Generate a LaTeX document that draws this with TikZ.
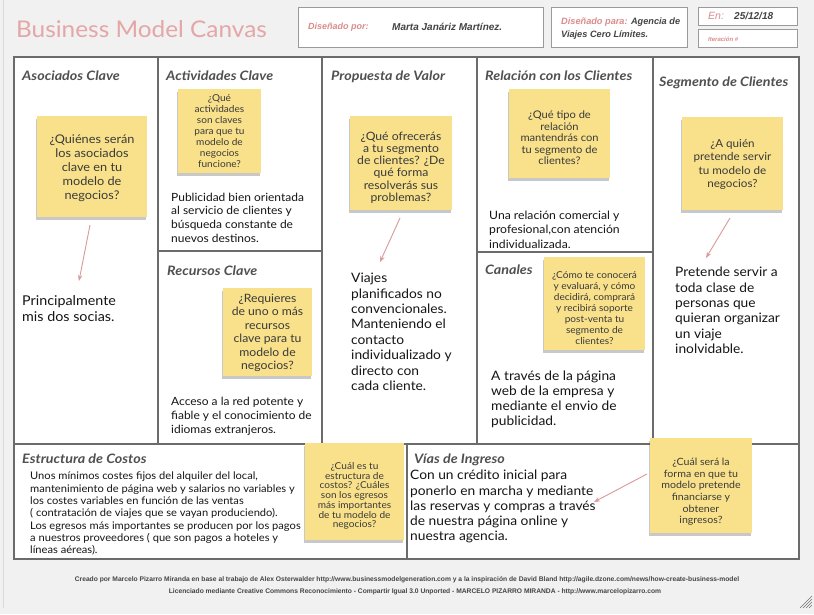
\documentclass[tikz,border=0pt]{standalone}
\usepackage{fontspec}
\setmainfont{Lato}[FakeStretch=1.06]
\newfontfamily\headingfont{Lato}[FakeStretch=1.1]
\newfontfamily\arialfont{Liberation Sans}
\usetikzlibrary{shadows,arrows.meta}

\definecolor{bggray}{HTML}{F1F1F1}
\definecolor{gridgray}{HTML}{6B6B6B}
\definecolor{boxgray}{HTML}{9A9A9A}
\definecolor{titlepink}{HTML}{E4A6A6}
\definecolor{labelpink}{HTML}{DA8C8C}
\definecolor{headtext}{HTML}{444444}
\definecolor{titlegray}{HTML}{505050}
\definecolor{noteyellow}{HTML}{F8E18A}
\definecolor{notetext}{HTML}{3A3A3A}
\definecolor{arrowpink}{HTML}{D99A9A}
\definecolor{bodyblack}{HTML}{151515}

\tikzset{
  cellline/.style={draw=gridgray, line width=2pt},
  infobox/.style={draw=boxgray, line width=0.8pt, fill=white, anchor=north west, inner sep=0pt},
  headfont/.style={inner sep=0pt, text=headtext, font=\arialfont\bfseries\itshape\fontsize{9}{12}\selectfont},
  celltitle/.style={anchor=base west, inner sep=0pt, text=titlegray, font=\headingfont\bfseries\itshape\fontsize{13}{15}\selectfont},
  sticky/.style={fill=noteyellow, inner sep=0pt,
    drop shadow={shadow xshift=-1pt, shadow yshift=-2.5pt, opacity=0.3, fill=black!70}},
  question/.style={align=center, inner sep=0pt, text=notetext},
  body/.style={anchor=north west, align=left, inner sep=0pt, text=bodyblack},
  hint/.style={draw=arrowpink, line width=0.9pt, -{Stealth[length=6pt,width=4.5pt]}},
  footnote/.style={inner sep=0pt, text=headtext, font=\arialfont\bfseries\fontsize{6.7}{8}\selectfont},
}

\begin{document}
\begin{tikzpicture}[x=1pt,y=-1pt]
\fill[bggray] (0,0) rectangle (814,614);
\useasboundingbox (0,0) rectangle (814,614);
\draw[black!15] (3,0) -- (3,608);

% header
\node[anchor=base west, inner sep=0pt, text=titlepink, font=\fontsize{23}{28}\selectfont] (title) at (16,37) {Business Model Canvas};

\node[infobox, minimum width=245pt, minimum height=40pt] (byBox) at (298,7) {};
\node[headfont, anchor=west, text=labelpink] (byLabel) at (308,27) {Diseñado por:};
\node[headfont, anchor=west, font=\arialfont\bfseries\itshape\fontsize{10}{12}\selectfont] (byName) at (392,27) {Marta Janáriz Martínez.};

\node[infobox, minimum width=136pt, minimum height=40pt] (forBox) at (551,7) {};
\node[headfont, anchor=north west, align=left, font=\arialfont\bfseries\itshape\fontsize{9.2}{12.5}\selectfont] (forText) at (561,18)
  {\textcolor{labelpink}{Diseñado para:} Agencia de\\Viajes Cero Límites.};

\node[infobox, minimum width=99pt, minimum height=18pt] (dateBox) at (698,7) {};
\node[headfont, anchor=west, text=labelpink, font=\arialfont\itshape\fontsize{10.5}{12}\selectfont] (dateLabel) at (708,16) {En:};
\node[headfont, anchor=west, font=\arialfont\bfseries\itshape\fontsize{10}{12}\selectfont] (dateText) at (734,15.5) {25/12/18};

\node[infobox, minimum width=99pt, minimum height=18pt] (iterBox) at (698,29) {};
\node[headfont, anchor=west, text=labelpink, font=\arialfont\bfseries\itshape\fontsize{6}{8}\selectfont] (iterText) at (708,39) {Iteración \#};

% canvas grid
\draw[cellline, fill=white] (14,57) rectangle (799,559);
\draw[cellline] (14,444) -- (799,444);
\draw[cellline] (158,57) -- (158,444);
\draw[cellline] (322,57) -- (322,444);
\draw[cellline] (477,57) -- (477,444);
\draw[cellline] (653,57) -- (653,444);
\draw[cellline] (158,251) -- (322,251);
\draw[cellline] (477,252) -- (653,252);
\draw[cellline] (407,444) -- (407,559);

% cell titles
\node[celltitle] (tPartners) at (22,80) {Asociados Clave};
\node[celltitle] (tActivities) at (166,80) {Actividades Clave};
\node[celltitle] (tValue) at (331,80) {Propuesta de Valor};
\node[celltitle] (tRelations) at (485,80) {Relación con los Clientes};
\node[celltitle] (tSegments) at (659,86) {Segmento de Clientes};
\node[celltitle] (tResources) at (167,275) {Recursos Clave};
\node[celltitle] (tChannels) at (485,274) {Canales};
\node[celltitle] (tCosts) at (22,463) {Estructura de Costos};
\node[celltitle] (tRevenue) at (414,463) {Vías de Ingreso};

% sticky notes
\node[sticky, minimum width=110pt, minimum height=101pt] (nPartners) at (92,166.5) {};
\node[question, font=\fontsize{12}{14}\selectfont] (qPartners) at (92,168)
  {¿Quiénes serán\\los asociados\\clave en tu\\modelo de\\negocios?};

\node[sticky, minimum width=83pt, minimum height=84pt] (nActivities) at (219.5,131) {};
\node[question, font=\fontsize{9.5}{11}\selectfont] (qActivities) at (219.5,131)
  {¿Qué\\actividades\\son claves\\para que tu\\modelo de\\negocios\\funcione?};

\node[sticky, minimum width=102pt, minimum height=94pt] (nValue) at (401,163) {};
\node[question, font=\fontsize{11.5}{12.2}\selectfont] (qValue) at (401,167.5)
  {¿Qué ofrecerás\\a tu segmento\\de clientes? ¿De\\qué forma\\resolverás sus\\problemas?};

\node[sticky, minimum width=101pt, minimum height=89pt] (nRelations) at (559.5,133.5) {};
\node[question, font=\fontsize{10.5}{11.5}\selectfont] (qRelations) at (559.5,138)
  {¿Qué tipo de\\relación\\mantendrás con\\tu segmento de\\clientes?};

\node[sticky, minimum width=101pt, minimum height=93pt] (nSegments) at (732.5,163.5) {};
\node[question, font=\fontsize{11}{13.5}\selectfont] (qSegments) at (732.5,164.5)
  {¿A quién\\pretende servir\\tu modelo de\\negocios?};

\node[sticky, minimum width=89pt, minimum height=88pt] (nResources) at (267.5,332) {};
\node[question, font=\fontsize{11.5}{13.5}\selectfont] (qResources) at (267.5,333)
  {¿Requieres\\de uno o más\\recursos\\clave para tu\\modelo de\\negocios?};

\node[sticky, minimum width=101pt, minimum height=93pt] (nChannels) at (594.5,303.5) {};
\node[question, font=\fontsize{9.5}{11}\selectfont] (qChannels) at (594.5,308)
  {¿Cómo te conocerá\\y evaluará, y cómo\\decidirá, comprará\\y recibirá soporte\\post-venta tu\\segmento de\\clientes?};

% body texts
\node[body, font=\fontsize{13.5}{16}\selectfont] (bPartners) at (22,295.5)
  {Principalmente\\mis dos socias.};
\node[body, font=\fontsize{11.3}{13.7}\selectfont] (bActivities) at (171,192.5)
  {Publicidad bien orientada\\al servicio de clientes y\\búsqueda constante de\\nuevos destinos.};
\node[body, font=\fontsize{13}{15.4}\selectfont] (bValue) at (351,273)
  {Viajes\\planificados no\\convencionales.\\Manteniendo el\\contacto\\individualizado y\\directo con\\cada cliente.};
\node[body, font=\fontsize{11.5}{14.6}\selectfont] (bRelations) at (489,210.5)
  {Una relación comercial y\\profesional,con atención\\individualizada.};
\node[body, font=\fontsize{11.3}{14}\selectfont] (bResources) at (171,396.5)
  {Acceso a la red potente y\\fiable y el conocimiento de\\idiomas extranjeros.};
\node[body, font=\fontsize{13}{15}\selectfont] (bChannels) at (491,371)
  {A través de la página\\web de la empresa y\\mediante el envio de\\publicidad.};
\node[body, font=\fontsize{13}{15.4}\selectfont] (bSegments) at (675,267)
  {Pretende servir a\\toda clase de\\personas que\\quieran organizar\\un viaje\\inolvidable.};
\node[body, font=\fontsize{10.5}{12.3}\selectfont] (bCosts) at (30,472)
  {Unos mínimos costes fijos del alquiler del local,\\mantenimiento de página web y salarios no variables y\\los costes variables en función de las ventas\\( contratación de viajes que se vayan produciendo).\\Los egresos más importantes se producen por los pagos\\a nuestros proveedores ( que son pagos a hoteles y\\líneas aéreas).};
\node[body, font=\fontsize{13}{15.3}\selectfont] (bRevenue) at (410,470)
  {Con un crédito inicial para\\ponerlo en marcha y mediante\\las reservas y compras a través\\de nuestra página online y\\nuestra agencia.};

% bottom notes (over the grid line)
\node[sticky, minimum width=99pt, minimum height=97pt] (nCosts) at (354.5,491.5) {};
\node[question, font=\fontsize{9.5}{9.7}\selectfont] (qCosts) at (354.5,496)
  {¿Cuál es tu\\estructura de\\costos? ¿Cuáles\\son los egresos\\más importantes\\de tu modelo de\\negocios?};

\node[sticky, minimum width=102pt, minimum height=95pt] (nRevenue) at (701,485.5) {};
\node[question, font=\fontsize{10}{11.6}\selectfont] (qRevenue) at (701,492)
  {¿Cuál será la\\forma en que tu\\modelo pretende\\financiarse y\\obtener\\ingresos?};

% hint arrows
\coordinate (hPartnersA) at (90,225);
\coordinate (hPartnersB) at (79,281);
\coordinate (hValueA) at (400,218);
\coordinate (hValueB) at (380,262);
\coordinate (hSegmentsA) at (730,218);
\coordinate (hSegmentsB) at (706,258);
\coordinate (hRevenueA) at (647,474);
\coordinate (hRevenueB) at (594,502);
\draw[hint] (hPartnersA) -- (hPartnersB);
\draw[hint] (hValueA) -- (hValueB);
\draw[hint] (hSegmentsA) -- (hSegmentsB);
\draw[hint] (hRevenueA) -- (hRevenueB);

% footer
\node[footnote] (credit) at (407,580)
  {Creado por Marcelo Pizarro Miranda en base al trabajo de Alex Osterwalder http://www.businessmodelgeneration.com y a la inspiración de David Bland http://agile.dzone.com/news/how-create-business-model};
\node[footnote] (licence) at (415,592)
  {Licenciado mediante Creative Commons Reconocimiento - Compartir Igual 3.0 Unported - MARCELO PIZARRO MIRANDA - http://www.marcelopizarro.com};

% resize grip
\foreach \d in {0,3,6,9}
  \draw[black!55, line width=0.5pt] (812,596+\d) -- (800+\d,608);
\end{tikzpicture}
\end{document}
